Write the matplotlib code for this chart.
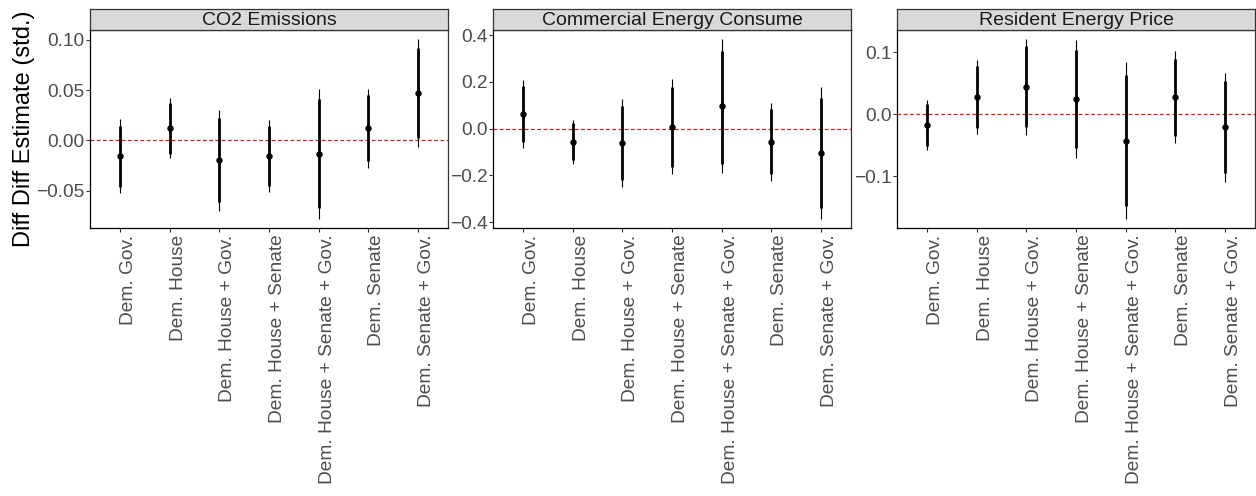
import numpy as np
import matplotlib
matplotlib.use("Agg")
import matplotlib.pyplot as plt

plt.rcParams['font.family'] = ['Liberation Sans', 'DejaVu Sans']

groups = ["Dem. Gov.", "Dem. House", "Dem. House + Gov.", "Dem. House + Senate",
          "Dem. House + Senate + Gov.", "Dem. Senate", "Dem. Senate + Gov."]
outcomes = ["CO2 Emissions", "Commercial Energy Consume", "Resident Energy Price"]

# point estimates
est_co2 = [-0.0158, 0.0122, -0.0198, -0.0158, -0.0135, 0.0122, 0.0469]
est_com = [0.064, -0.057, -0.062, 0.0085, 0.095, -0.057, -0.105]
est_res = [-0.0171, 0.0278, 0.0444, 0.0251, -0.0423, 0.0278, -0.0209]

# 90% intervals (thick)
lo90_co2 = [-0.0460, -0.0132, -0.0614, -0.0455, -0.0677, -0.0205, 0.0023]
hi90_co2 = [0.0142, 0.0373, 0.0224, 0.0139, 0.0406, 0.0449, 0.0918]
lo90_com = [-0.057, -0.135, -0.220, -0.163, -0.149, -0.194, -0.340]
hi90_com = [0.184, 0.024, 0.095, 0.177, 0.333, 0.085, 0.132]
lo90_res = [-0.0503, -0.0219, -0.0203, -0.0540, -0.1477, -0.0348, -0.0952]
hi90_res = [0.0160, 0.0770, 0.1090, 0.1038, 0.0631, 0.0893, 0.0530]

# 95% intervals (thin)
lo95_co2 = [-0.0520, -0.0178, -0.0700, -0.0518, -0.0782, -0.0271, -0.0069]
hi95_co2 = [0.0208, 0.0422, 0.0304, 0.0198, 0.0508, 0.0512, 0.1007]
lo95_com = [-0.081, -0.152, -0.251, -0.193, -0.191, -0.223, -0.386]
hi95_com = [0.206, 0.038, 0.126, 0.210, 0.383, 0.111, 0.177]
lo95_res = [-0.0578, -0.0321, -0.0332, -0.0696, -0.1685, -0.0460, -0.1086]
hi95_res = [0.0235, 0.0867, 0.1210, 0.1198, 0.0840, 0.1016, 0.0669]

yticks = [[-0.05, 0.00, 0.05, 0.10], [-0.4, -0.2, 0.0, 0.2, 0.4], [-0.1, 0.0, 0.1]]
yfmt = ["{:.2f}", "{:.1f}", "{:.1f}"]

panels = [
    (est_co2, lo90_co2, hi90_co2, lo95_co2, hi95_co2),
    (est_com, lo90_com, hi90_com, lo95_com, hi95_com),
    (est_res, lo90_res, hi90_res, lo95_res, hi95_res),
]

W, H = 1256, 496
fig = plt.figure(figsize=(W / 100, H / 100), dpi=100)

lefts = [90, 493, 897]
pw = 358
top, bottom, strip_h = 30, 228, 21
x = np.arange(len(groups))

for i, (est, lo90, hi90, lo95, hi95) in enumerate(panels):
    l = lefts[i]
    ax = fig.add_axes([l / W, 1 - bottom / H, pw / W, (bottom - top) / H])
    ax.axhline(0, color='#D42020', lw=0.9, ls=(0, (3, 2)), zorder=1)
    ax.vlines(x, lo95, hi95, color='black', lw=0.8, zorder=2)
    ax.vlines(x, lo90, hi90, color='black', lw=2.0, zorder=3)
    ax.plot(x, est, 'o', color='black', ms=3.6, zorder=4)

    ymin, ymax = min(lo95), max(hi95)
    pad = 0.05 * (ymax - ymin)
    ax.set_ylim(ymin - pad, ymax + pad)
    ax.set_xlim(-0.6, len(groups) - 0.4)

    ax.set_yticks(yticks[i])
    ax.set_yticklabels([yfmt[i].format(v).replace('-', '\u2212') for v in yticks[i]])
    ax.set_xticks(x)
    ax.set_xticklabels(groups, rotation=90, ha='right', va='top', rotation_mode='anchor')
    ax.tick_params(axis='both', labelsize=13.8, labelcolor='#4D4D4D', color='#333333',
                   length=2.75, width=0.8)
    ax.tick_params(axis='y', pad=1)
    ax.tick_params(axis='x', pad=2)
    for s in ax.spines.values():
        s.set_color('#333333')
        s.set_linewidth(0.9)
    ax.spines['left'].set_color('black')
    ax.spines['bottom'].set_color('black')

    sax = fig.add_axes([l / W, 1 - top / H, pw / W, strip_h / H])
    sax.set_facecolor('#D9D9D9')
    sax.set_xticks([])
    sax.set_yticks([])
    for s in sax.spines.values():
        s.set_color('#333333')
        s.set_linewidth(0.9)
    sax.text(0.5, 0.45, outcomes[i], ha='center', va='center', fontsize=14,
             color='#1A1A1A', transform=sax.transAxes)

fig.text(24 / W, 1 - 129 / H, "Diff Diff Estimate (std.)", rotation=90,
         ha='center', va='center', fontsize=17, color='black')

fig.savefig("out.png", dpi=100)
